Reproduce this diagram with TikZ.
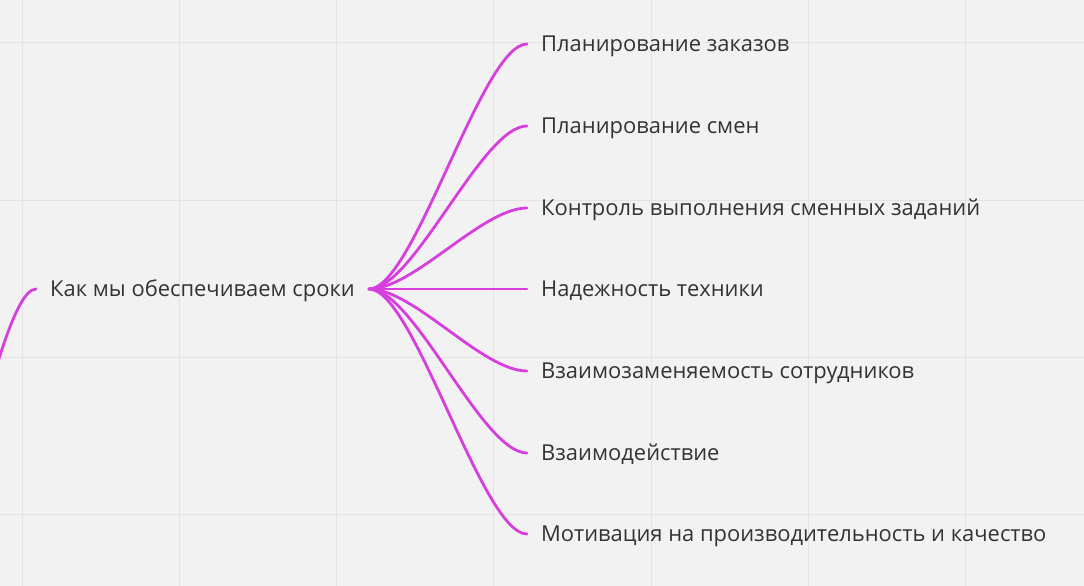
\documentclass[tikz,border=0pt]{standalone}
\usepackage{fontspec}
\setmainfont{Open Sans}
\usetikzlibrary{positioning}
\definecolor{mindpink}{HTML}{D63FDE}
\definecolor{gridgray}{HTML}{E3E3E3}
\definecolor{boardgray}{HTML}{F2F2F2}
\definecolor{inkgray}{HTML}{333333}
\tikzstyle{topic} = [
	anchor=west,
	inner xsep=14bp,
	inner ysep=4bp,
	text height=15.7bp,
	text depth=0bp,
	text=inkgray,
	font=\fontsize{22}{26}\selectfont
]
\tikzstyle{leaf} = [topic]
\tikzstyle{branch} = [draw=mindpink, line width=2.8bp, line cap=round]
\tikzstyle{gridline} = [draw=gridgray, line width=1bp]

\begin{document}
\begin{tikzpicture}[x=1bp, y=-1bp]
	\useasboundingbox (0,0) rectangle (1084,586);
	\fill [boardgray] (0,0) rectangle (1084,586);
	\clip (0,0) rectangle (1084,586);
	% board grid
	\foreach \k in {0,...,6}
		\draw [gridline] ({22+157.33*\k},0) -- ({22+157.33*\k},586);
	\foreach \k in {0,...,3}
		\draw [gridline] (0,{43+157.33*\k}) -- (1084,{43+157.33*\k});

	\coordinate (parent) at (-120,735);
	\node (root) [topic] at (36,289) {Как мы обеспечиваем сроки};
	\node (orders) [leaf] at (527,44) {Планирование заказов};
	\node (shifts) [leaf] at (527,126) {Планирование смен};
	\node (control) [leaf] at (527,208) {Контроль выполнения сменных заданий};
	\node (tech) [leaf] at (527,289) {Надежность техники};
	\node (staff) [leaf] at (527,371) {Взаимозаменяемость сотрудников};
	\node (teamwork) [leaf] at (527,453) {Взаимодействие};
	\node (motiv) [leaf] at (527,534) {Мотивация на производительность и качество};

	\draw [branch] (parent) .. controls +(45,0) and +(-45,0) .. (root.west);
	\draw [branch] (root.east) .. controls +(45,0) and +(-45,0) .. (orders.west);
	\draw [branch] (root.east) .. controls +(45,0) and +(-45,0) .. (shifts.west);
	\draw [branch] (root.east) .. controls +(45,0) and +(-45,0) .. (control.west);
	\draw [branch] (root.east) -- (tech.west);
	\draw [branch] (root.east) .. controls +(45,0) and +(-45,0) .. (staff.west);
	\draw [branch] (root.east) .. controls +(45,0) and +(-45,0) .. (teamwork.west);
	\draw [branch] (root.east) .. controls +(45,0) and +(-45,0) .. (motiv.west);
\end{tikzpicture}
\end{document}
